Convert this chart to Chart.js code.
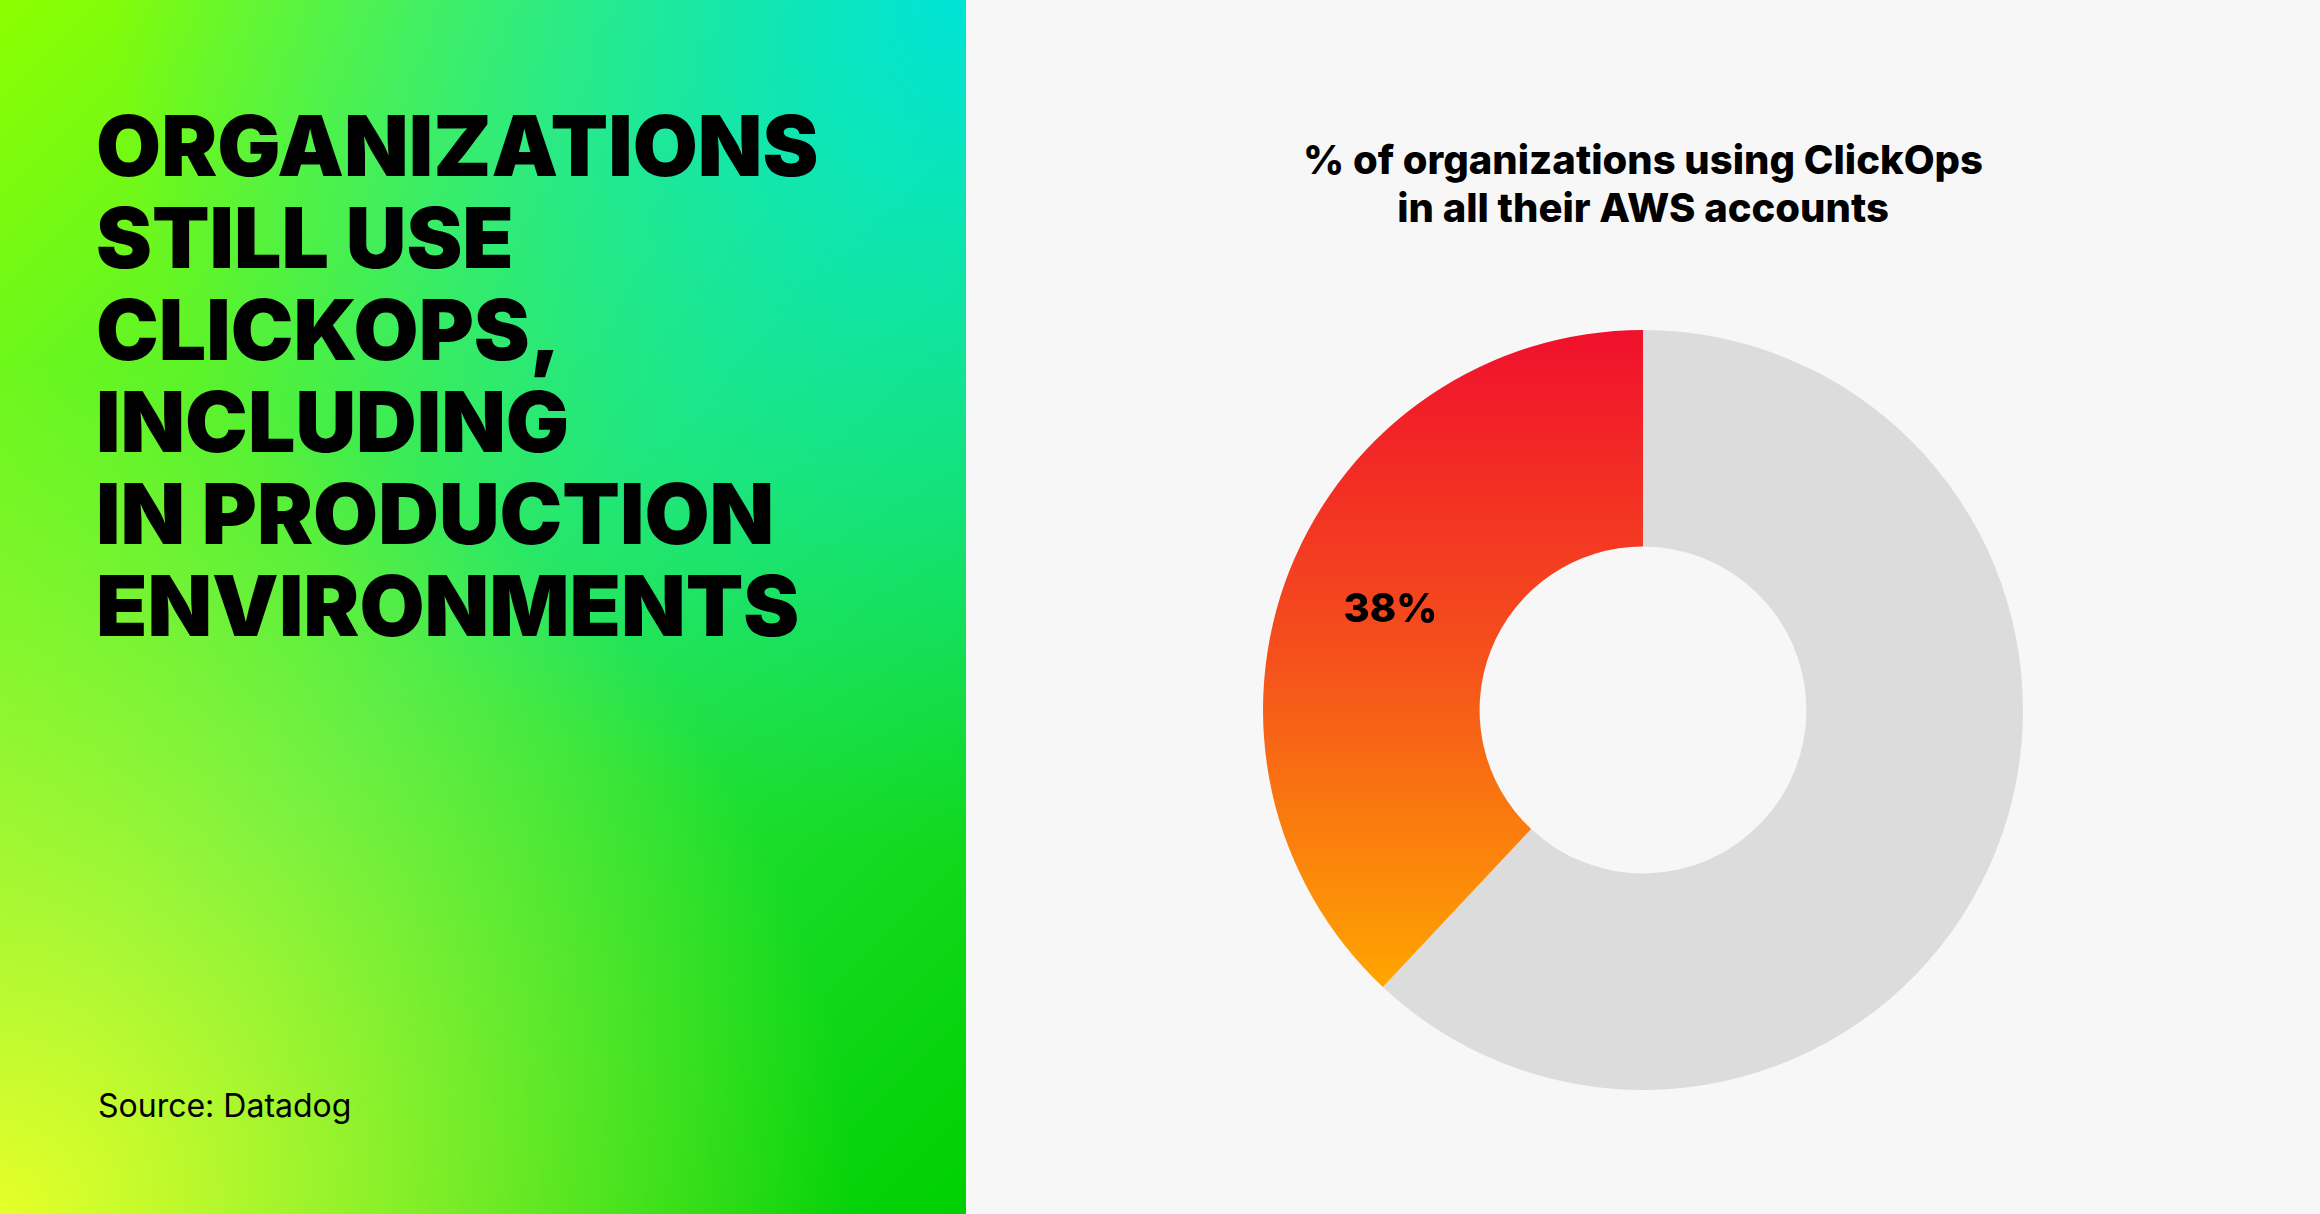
<!DOCTYPE html>
<html>
<head>
<meta charset="utf-8">
<script src="https://cdn.jsdelivr.net/npm/chart.js@4"></script>
<style>
  html, body { margin: 0; padding: 0; width: 2320px; height: 1214px; overflow: hidden; font-family: Inter, "Noto Sans", sans-serif; }
  #left {
    position: absolute; left: 0; top: 0; width: 966px; height: 1214px;
    background:
      radial-gradient(circle at 0% 100%, rgba(230,255,40,1) 0%, rgba(230,255,40,0) 55%),
      radial-gradient(circle at 100% 0%, rgba(0,228,215,1) 0%, rgba(0,228,215,0) 55%),
      linear-gradient(135deg, #8cff00 0%, #30e850 50%, #00d000 100%);
  }
  #right { position: absolute; left: 966px; top: 0; width: 1354px; height: 1214px; background: #f7f7f8; }
  h1 { position: absolute; left: 96px; top: 100px; margin: 0; font-size: 84px; line-height: 92px; font-weight: 900; color: #000; letter-spacing: 0px; }
  #source { position: absolute; left: 98px; top: 1086px; font-size: 32px; color: #000; }
  #title { position: absolute; left: 1243px; top: 136px; width: 800px; text-align: center; font-size: 40px; line-height: 48px; font-weight: 800; color: #000; }
  #wrap { position: absolute; left: 1263px; top: 330px; width: 760px; height: 760px; }
</style>
</head>
<body>
<div id="left">
  <h1>ORGANIZATIONS<br>STILL USE<br>CLICKOPS,<br>INCLUDING<br>IN PRODUCTION<br>ENVIRONMENTS</h1>
  <div id="source">Source: Datadog</div>
</div>
<div id="right"></div>
<div id="title">% of organizations using ClickOps<br>in all their AWS accounts</div>
<div id="wrap"><canvas id="donut"></canvas></div>
<script>
// Dados do gráfico
const categorias = ['Outros', 'Usam ClickOps em todas as contas'];
const valores = [62, 38];
const rotulos = ['', '38%'];

// Plugin para escrever o rótulo no segmento
const rotuloPlugin = {
  id: 'rotulo',
  afterDatasetsDraw(chart) {
    const ctx = chart.ctx;
    chart.getDatasetMeta(0).data.forEach(function(arc, i) {
      if (!rotulos[i]) return;
      const p = arc.tooltipPosition();
      ctx.save();
      ctx.font = '800 40px Inter, sans-serif';
      ctx.fillStyle = '#000';
      ctx.textAlign = 'center';
      ctx.textBaseline = 'middle';
      ctx.fillText(rotulos[i], p.x, p.y);
      ctx.restore();
    });
  }
};

const ctx = document.getElementById('donut').getContext('2d');
new Chart(ctx, {
  type: 'doughnut',
  data: {
    labels: categorias,
    datasets: [{
      data: valores,
      backgroundColor: function(c) {
        if (c.dataIndex === 0) return '#dcdcdc';
        const area = c.chart.chartArea;
        if (!area) return '#f52';
        const g = c.chart.ctx.createLinearGradient(0, area.top, 0, area.top + area.height * 0.86);
        g.addColorStop(0, '#f0102c');
        g.addColorStop(0.5, '#f5501c');
        g.addColorStop(1, '#ffa500');
        return g;
      },
      borderWidth: 0
    }]
  },
  options: {
    responsive: true,
    maintainAspectRatio: false,
    animation: false,
    cutout: '43%',
    plugins: { legend: { display: false }, tooltip: { enabled: false } }
  },
  plugins: [rotuloPlugin]
});
</script>
</body>
</html>
